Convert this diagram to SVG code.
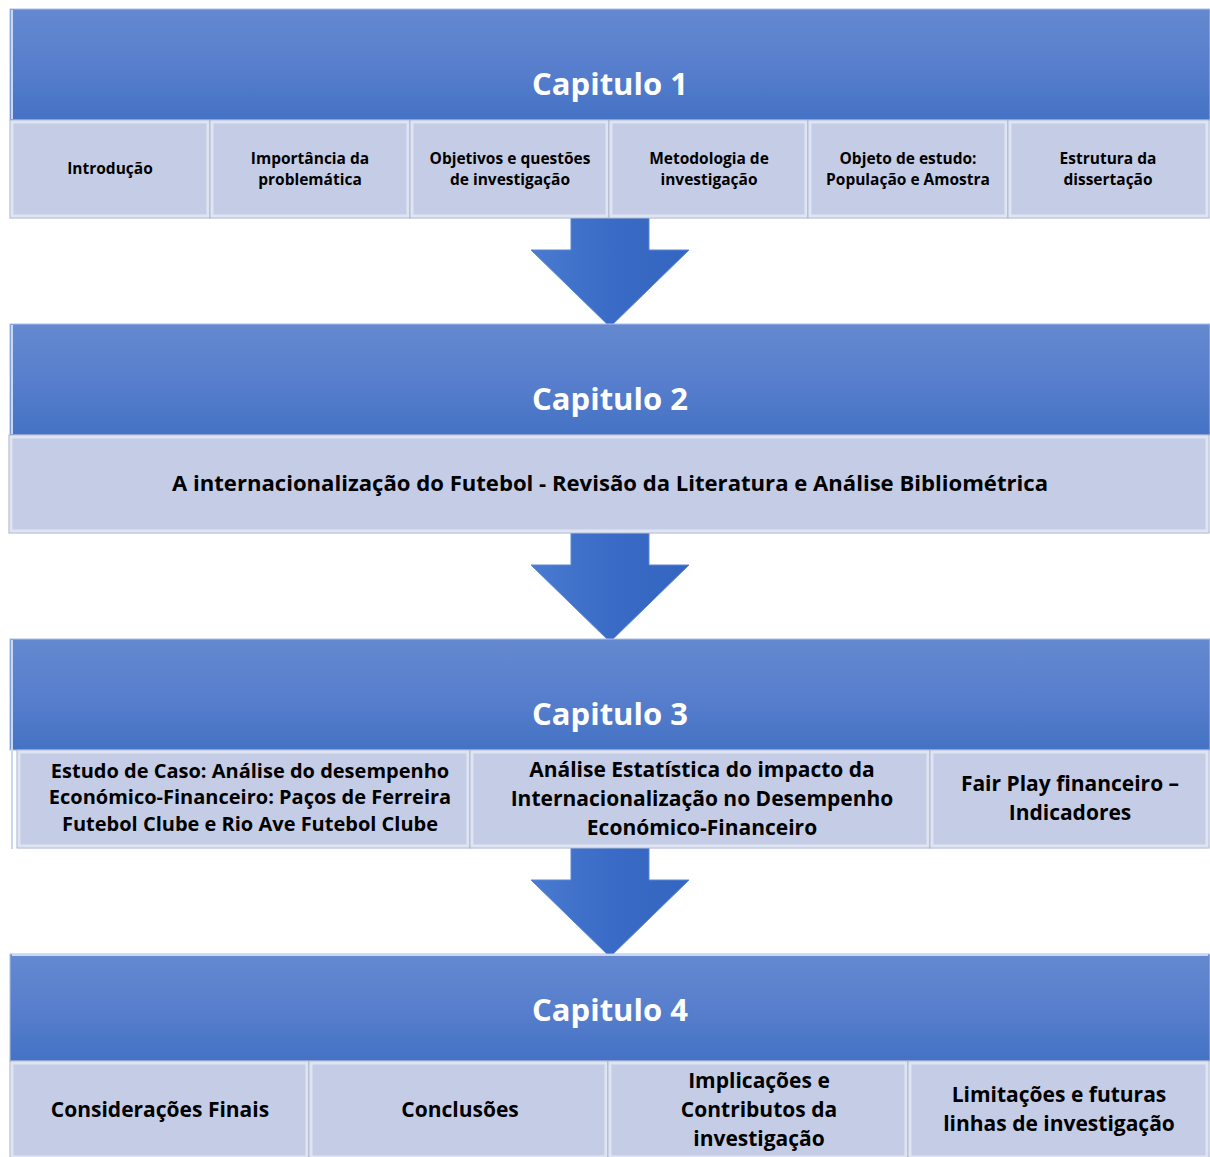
<svg xmlns="http://www.w3.org/2000/svg" width="1210" height="1157" viewBox="0 0 1210 1157">
<defs>
<linearGradient id="hg" x1="0" y1="0" x2="0" y2="1">
<stop offset="0" stop-color="#6489D0"/>
<stop offset="0.5" stop-color="#587fcd"/>
<stop offset="1" stop-color="#4472C4"/>
</linearGradient>
<linearGradient id="ag" x1="0" y1="0" x2="1" y2="0">
<stop offset="0" stop-color="#4a7bd0"/>
<stop offset="0.5" stop-color="#3a6bc6"/>
<stop offset="1" stop-color="#3366c0"/>
</linearGradient>
<style>
.hdr{fill:url(#hg);stroke:#a9bde6;stroke-width:1}
.hl{fill:none;stroke:#c8d8f2;stroke-width:2}
.sub{fill:#C5CDE6;stroke:#a7b0c8;stroke-width:1}
.bev{fill:none;stroke:#dfe4f2;stroke-width:3}
.title{font-family:"Open Sans","Liberation Sans",sans-serif;font-weight:bold;font-size:31px;fill:#ffffff;text-anchor:middle}
.t{font-family:"Open Sans","Liberation Sans",sans-serif;font-weight:bold;fill:#000000;text-anchor:middle}
.s1{font-size:15.5px}
.s2{font-size:21px}
.s3{font-size:20px}
.arrow{fill:url(#ag);stroke:#5b86d6;stroke-width:1}
</style>
</defs>
<g id="connectors">
<path class="arrow" d="M571,218 H649 V250 H689 L610,327 L531,250 H571 Z"/>
<path class="arrow" d="M571,533 H649 V565 H689 L610,642 L531,565 H571 Z"/>
<path class="arrow" d="M571,848 H649 V880 H689 L610,957 L531,880 H571 Z"/>
</g>
<g id="cap1">
<rect class="hdr" x="10" y="9" width="1200" height="111"/>
<line class="hl" x1="12" y1="10" x2="12" y2="119"/>
<text class="title" x="610" y="95">Capitulo 1</text>
</g>
<g id="c1b1"><rect class="sub" x="10" y="120" width="200" height="98"/><rect class="bev" x="12" y="122" width="196" height="94"/><text class="t s1" x="110" y="174">Introdução</text></g>
<g id="c1b2"><rect class="sub" x="210" y="120" width="200" height="98"/><rect class="bev" x="212" y="122" width="196" height="94"/><text class="t s1" x="310" y="164">Importância da</text><text class="t s1" x="310" y="185">problemática</text></g>
<g id="c1b3"><rect class="sub" x="410" y="120" width="199" height="98"/><rect class="bev" x="412" y="122" width="195" height="94"/><text class="t s1" x="510" y="164">Objetivos e questões</text><text class="t s1" x="510" y="185">de investigação</text></g>
<g id="c1b4"><rect class="sub" x="609" y="120" width="199" height="98"/><rect class="bev" x="611" y="122" width="195" height="94"/><text class="t s1" x="709" y="164">Metodologia de</text><text class="t s1" x="709" y="185">investigação</text></g>
<g id="c1b5"><rect class="sub" x="808" y="120" width="200" height="98"/><rect class="bev" x="810" y="122" width="196" height="94"/><text class="t s1" x="908" y="164">Objeto de estudo:</text><text class="t s1" x="908" y="185">População e Amostra</text></g>
<g id="c1b6"><rect class="sub" x="1008" y="120" width="201" height="98"/><rect class="bev" x="1010" y="122" width="197" height="94"/><text class="t s1" x="1108" y="164">Estrutura da</text><text class="t s1" x="1108" y="185">dissertação</text></g>
<g id="cap2">
<rect class="hdr" x="10" y="324" width="1200" height="111"/>
<line class="hl" x1="12" y1="325" x2="12" y2="434"/>
<text class="title" x="610" y="410">Capitulo 2</text>
</g>
<g id="c2b1"><rect class="sub" x="9" y="435" width="1200" height="98"/><rect class="bev" x="11" y="437" width="1196" height="94"/><text class="t s2" x="610" y="491" textLength="876" lengthAdjust="spacingAndGlyphs">A internacionalização do Futebol - Revisão da Literatura e Análise Bibliométrica</text></g>
<g id="cap3">
<rect class="hdr" x="10" y="639" width="1200" height="111"/>
<line class="hl" x1="12" y1="640" x2="12" y2="849"/>
<text class="title" x="610" y="725">Capitulo 3</text>
</g>
<g id="c3b1"><rect class="sub" x="17" y="750" width="453" height="98"/><rect class="bev" x="19" y="752" width="449" height="94"/><text class="t s3" x="250" y="778">Estudo de Caso: Análise do desempenho</text><text class="t s3" x="250" y="804">Económico-Financeiro: Paços de Ferreira</text><text class="t s3" x="250" y="831">Futebol Clube e Rio Ave Futebol Clube</text></g>
<g id="c3b2"><rect class="sub" x="470" y="750" width="460" height="98"/><rect class="bev" x="472" y="752" width="456" height="94"/><text class="t s2" x="702" y="777">Análise Estatística do impacto da</text><text class="t s2" x="702" y="806">Internacionalização no Desempenho</text><text class="t s2" x="702" y="835">Económico-Financeiro</text></g>
<g id="c3b3"><rect class="sub" x="930" y="750" width="279" height="98"/><rect class="bev" x="932" y="752" width="275" height="94"/><text class="t s2" x="1070" y="791">Fair Play financeiro –</text><text class="t s2" x="1070" y="820">Indicadores</text></g>
<g id="cap4">
<rect class="hdr" x="10" y="954" width="1200" height="107"/>
<line class="hl" x1="12" y1="955" x2="1208" y2="955"/>
<text class="title" x="610" y="1021">Capitulo 4</text>
</g>
<g id="c4b1"><rect class="sub" x="10" y="1061" width="299" height="96"/><rect class="bev" x="12" y="1063" width="295" height="94"/><text class="t s2" x="160" y="1117">Considerações Finais</text></g>
<g id="c4b2"><rect class="sub" x="309" y="1061" width="299" height="96"/><rect class="bev" x="311" y="1063" width="295" height="94"/><text class="t s2" x="460" y="1117">Conclusões</text></g>
<g id="c4b3"><rect class="sub" x="608" y="1061" width="300" height="96"/><rect class="bev" x="610" y="1063" width="296" height="94"/><text class="t s2" x="759" y="1088">Implicações e</text><text class="t s2" x="759" y="1117">Contributos da</text><text class="t s2" x="759" y="1146">investigação</text></g>
<g id="c4b4"><rect class="sub" x="908" y="1061" width="301" height="96"/><rect class="bev" x="910" y="1063" width="297" height="94"/><text class="t s2" x="1059" y="1102">Limitações e futuras</text><text class="t s2" x="1059" y="1131">linhas de investigação</text></g>
</svg>
